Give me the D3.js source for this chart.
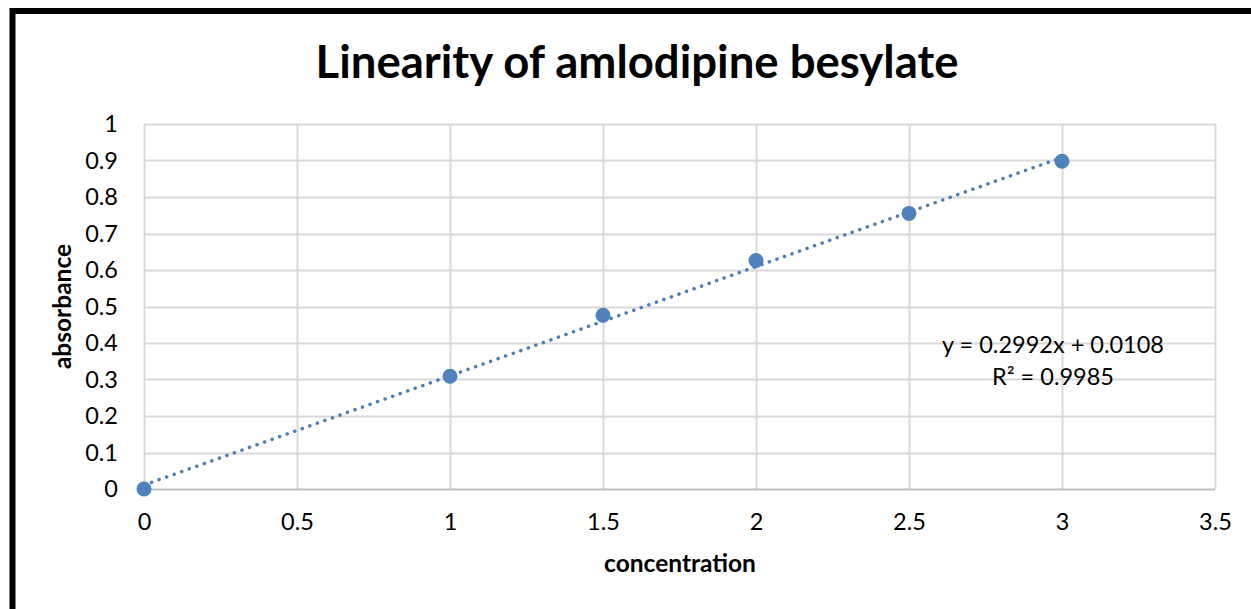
<!DOCTYPE html>
<html>
<head>
<meta charset="utf-8">
<script src="https://cdn.jsdelivr.net/npm/d3@7"></script>
<style>
  body { margin: 0; background: #fff; }
  svg { display: block; font-family: Lato, "Open Sans", sans-serif; }
</style>
</head>
<body>
<svg class="chart"></svg>
<script>
// measured points
var concentration = [0, 1, 1.5, 2, 2.5, 3];
var absorbance = [0, 0.309, 0.476, 0.626, 0.755, 0.898];
var xTicks = [0, 0.5, 1, 1.5, 2, 2.5, 3, 3.5];
var yTicks = [0, 0.1, 0.2, 0.3, 0.4, 0.5, 0.6, 0.7, 0.8, 0.9, 1];
var slope = 0.2992, intercept = 0.0108;
var equationLines = ["y = 0.2992x + 0.0108", "R² = 0.9985"];

var W = 1251, H = 609;
var margin = {top: 124, right: 36, bottom: 120, left: 144},
    width = W - margin.left - margin.right,
    height = H - margin.top - margin.bottom;

var x = d3.scaleLinear().domain([0, 3.5]).range([0, width]);
var y = d3.scaleLinear().domain([0, 1]).range([height, 0]);

var svg = d3.select(".chart")
    .attr("width", W)
    .attr("height", H);

// outer frame
svg.append("rect")
    .attr("x", 12.5).attr("y", 11)
    .attr("width", W + 20).attr("height", H + 20)
    .attr("fill", "none")
    .attr("stroke", "#000")
    .attr("stroke-width", 6);

svg.append("text")
    .attr("x", 637).attr("y", 78)
    .attr("text-anchor", "middle")
    .style("font-size", "45.5px")
    .style("font-weight", "bold")
    .text("Linearity of amlodipine besylate");

var main = svg.append("g")
    .attr("transform", "translate(" + margin.left + "," + margin.top + ")");

// gridlines
main.selectAll(".hgrid")
    .data(yTicks.filter(function(d) { return d > 0; }))
  .enter().append("line")
    .attr("x1", 0).attr("x2", width)
    .attr("y1", function(d) { return Math.round(y(d)) + 0.5; })
    .attr("y2", function(d) { return Math.round(y(d)) + 0.5; })
    .attr("stroke", "#d9d9d9").attr("stroke-width", 2);

main.selectAll(".vgrid")
    .data(xTicks)
  .enter().append("line")
    .attr("y1", 0).attr("y2", height)
    .attr("x1", function(d) { return Math.round(x(d)) + 0.5; })
    .attr("x2", function(d) { return Math.round(x(d)) + 0.5; })
    .attr("stroke", "#d9d9d9").attr("stroke-width", 2);

// baseline axis
main.append("line")
    .attr("x1", 0).attr("x2", width)
    .attr("y1", height + 0.5).attr("y2", height + 0.5)
    .attr("stroke", "#bfbfbf").attr("stroke-width", 2);

// tick labels
var xAxis = d3.axisBottom(x).tickValues(xTicks).tickSize(0).tickPadding(24)
    .tickFormat(d3.format("~g"));
var gx = main.append("g")
    .attr("transform", "translate(0," + height + ")")
    .call(xAxis);

var yAxis = d3.axisLeft(y).tickValues(yTicks).tickSize(0).tickPadding(26)
    .tickFormat(d3.format("~g"));
var gy = main.append("g").call(yAxis);

[gx, gy].forEach(function(g) {
  g.select(".domain").remove();
  g.selectAll("text")
    .attr("fill", "#000")
    .style("font-size", "23.5px")
    .style("font-family", "Lato, 'Open Sans', sans-serif");
});

svg.append("text")
    .attr("x", 680).attr("y", 572)
    .attr("text-anchor", "middle")
    .style("font-size", "24.5px")
    .style("font-weight", "bold")
    .text("concentration");

svg.append("text")
    .attr("transform", "translate(71," + (margin.top + height / 2) + ") rotate(-90)")
    .attr("text-anchor", "middle")
    .style("font-size", "24.5px")
    .style("font-weight", "bold")
    .text("absorbance");

// linear trendline
main.append("line")
    .attr("x1", x(0)).attr("y1", y(intercept))
    .attr("x2", x(3)).attr("y2", y(slope * 3 + intercept))
    .attr("stroke", "#4a7ebb")
    .attr("stroke-width", 3.5)
    .attr("stroke-linecap", "round")
    .attr("stroke-dasharray", "0.1 7.9");

main.append("g").selectAll("circle")
    .data(concentration)
  .enter().append("circle")
    .attr("cx", function(d) { return x(d); })
    .attr("cy", function(d, i) { return y(absorbance[i]); })
    .attr("r", 7.5)
    .attr("fill", "#4f81bd");

svg.append("g").selectAll("text")
    .data(equationLines)
  .enter().append("text")
    .attr("x", 1053)
    .attr("y", function(d, i) { return 353 + i * 32; })
    .attr("text-anchor", "middle")
    .style("font-size", "23.5px")
    .text(function(d) { return d; });
</script>
</body>
</html>
